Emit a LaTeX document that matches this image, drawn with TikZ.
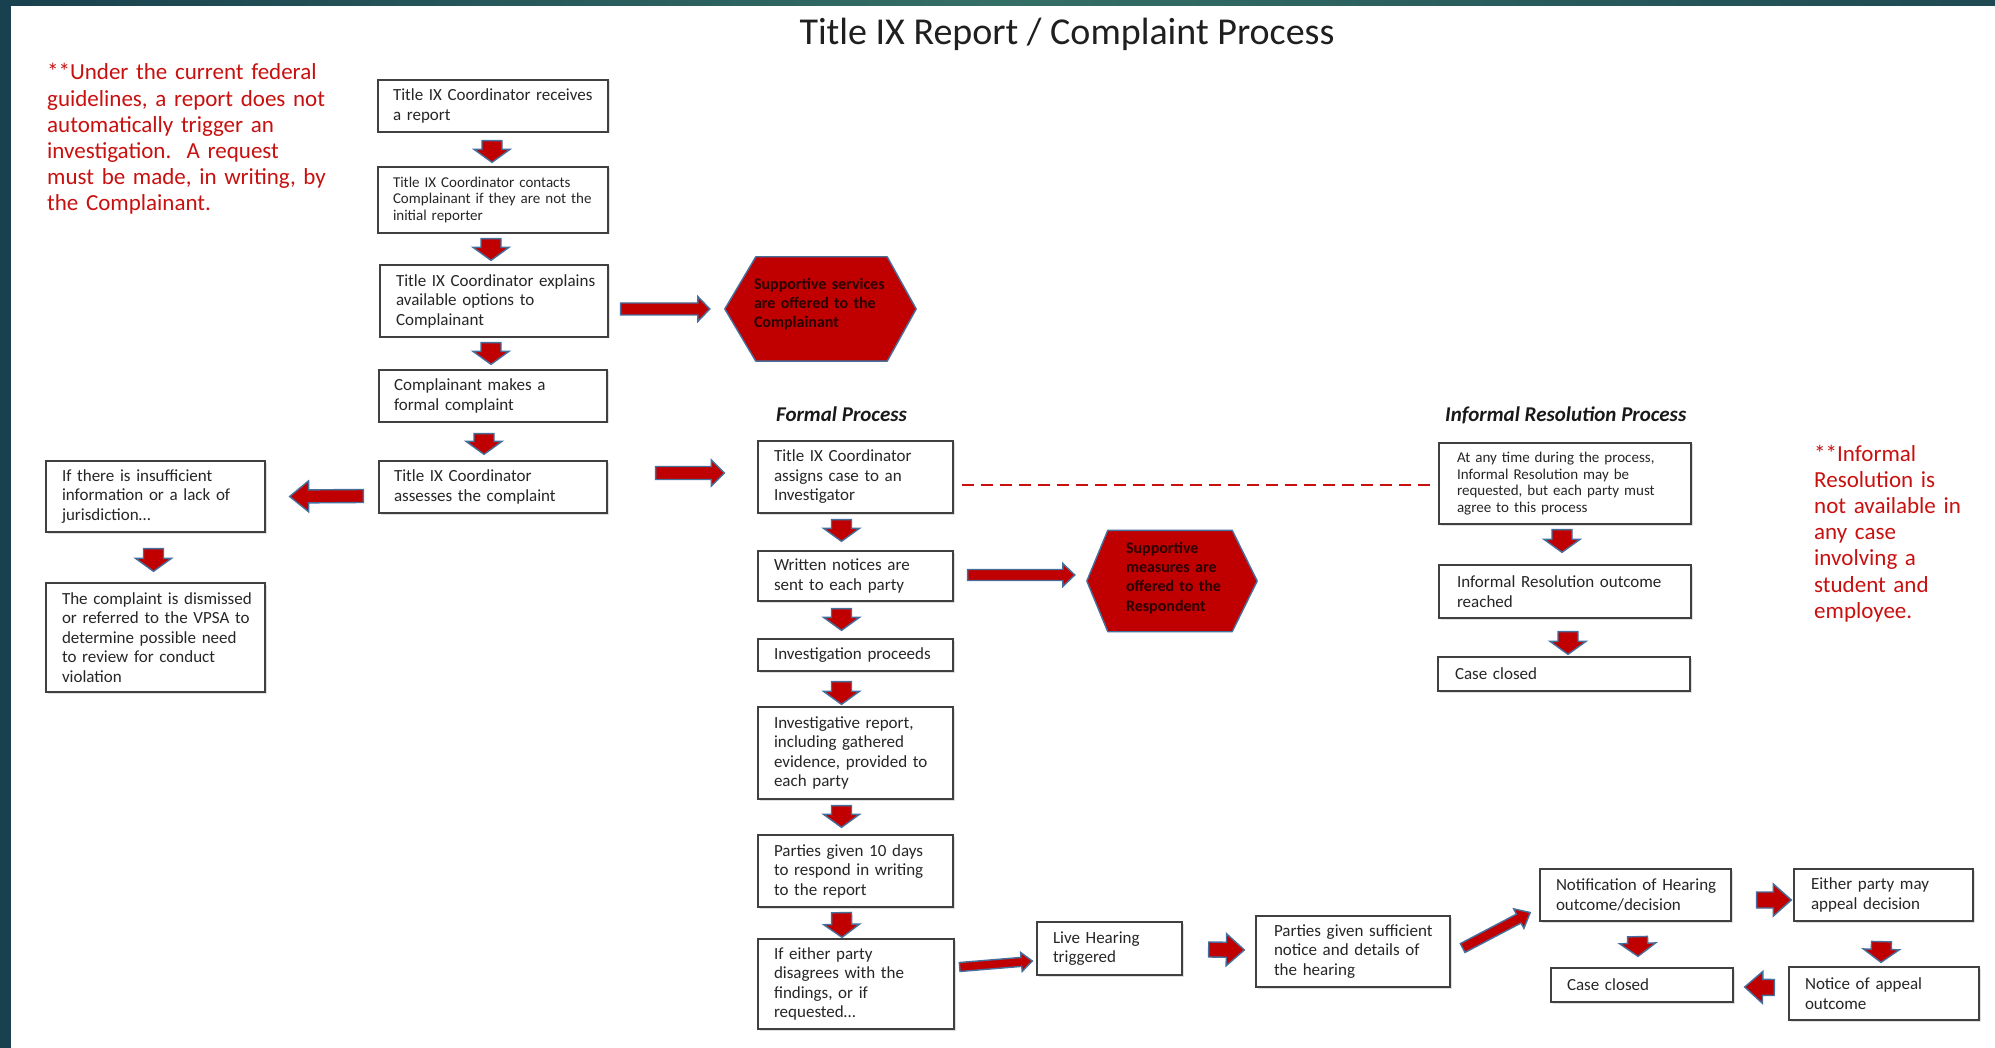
\documentclass[tikz,border=0pt]{standalone}
\usepackage{fontspec}
\setmainfont{Carlito}
\usetikzlibrary{calc,shadows}
\definecolor{dred}{HTML}{C00000}
\definecolor{txtred}{HTML}{C8100F}
\definecolor{aline}{HTML}{45709E}
\definecolor{bgray}{HTML}{404040}
\definecolor{hextext}{HTML}{2A0000}
\definecolor{tealA}{HTML}{19404E}
\definecolor{tealB}{HTML}{346F66}
\newcommand\bxfont{\fontsize{17}{19.5}\selectfont}
\newcommand\smfont{\fontsize{15}{16.5}\selectfont}
\newcommand\hxfont{\fontsize{16}{19.2}\selectfont\bfseries}
\newcommand\notefont{\fontsize{23}{26.2}\selectfont}
\newcommand\hdfont{\fontsize{21}{25}\selectfont\bfseries\itshape}
\newcommand\ttlfont{\fontsize{38}{44}\selectfont}
\pgfdeclarelayer{bg}
\pgfsetlayers{bg,main}
% block arrow: from, to, shaft half width, head half width, head length
\newcommand\barrow[5]{%
  \path let \p1=(#1), \p2=(#2), \n1={atan2(\y2-\y1,\x2-\x1)}, \n2={veclen(\x2-\x1,\y2-\y1)} in
    \pgfextra{\xdef\baA{\n1}\xdef\baL{\n2}\xdef\baX{\x1}\xdef\baY{\y1}};
  \fill[blockarrow, shift={(\baX,\baY)}, rotate=\baA]
    (0,#3) -- ({\baL-#5},#3) -- ({\baL-#5},#4) -- (\baL,0) -- ({\baL-#5},-#4) -- ({\baL-#5},-#3) -- (0,-#3) -- cycle;
}
\begin{document}
\begin{tikzpicture}[x=1pt,y=-1pt,
  pad/.style={execute at begin node={\leftskip=#1pt\relax}},
  box/.style={draw=bgray, line width=1.3pt, fill=white, inner xsep=0pt, inner ysep=0pt,
    align=left, font=\bxfont, text=black!85, pad=15,
    drop shadow={shadow xshift=1.5pt, shadow yshift=-1.5pt, opacity=0.25}},
  wh/.style 2 args={minimum width=#1pt, text width=#1pt, minimum height=#2pt},
  hexnode/.style={inner sep=0pt, align=left, font=\hxfont, text=hextext},
  hexshape/.style={fill=dred, draw=aline, line width=1.4pt, line join=round},
  blockarrow/.style={fill=dred, draw=aline, line width=1.4pt, line join=miter},
  note/.style={inner sep=0pt, align=left, font=\notefont, text=txtred},
  hdr/.style={inner sep=0pt, font=\hdfont, text=black!90},
  dashline/.style={draw=txtred, line width=1.8pt, dash pattern=on 12pt off 7pt}
]
\useasboundingbox (0,0) rectangle (1995,1048);
\begin{pgfonlayer}{bg}
\fill[white] (0,0) rectangle (1995,1048);
\fill[tealA] (0,0) rectangle (11,1048);
\shade[left color=tealA, right color=tealA!80!tealB, middle color=tealB] (0,0) rectangle (1995,6);
\end{pgfonlayer}

% title and notes
\node[anchor=base, font=\ttlfont, text=black!88, inner sep=0pt] (TT) at (1067,45) {Title IX Report / Complaint Process};
\node[note, anchor=base west, text width=300pt] (N1) at (47,80) {**Under the current federal\\guidelines, a report does not\\automatically trigger an\\investigation.\ \ A request\\must be made, in writing, by\\the Complainant.};
\node[note, anchor=base west, text width=175pt] (N2) at (1814,461) {**Informal\\Resolution is\\not available in\\any case\\involving a\\student and\\employee.};
\node[hdr, anchor=base west] (FP) at (776,421) {Formal Process};
\node[hdr, anchor=base west] (IRP) at (1445,421) {Informal Resolution Process};

% intake column
\node[box, wh={230}{52}] (A) at (493,106) {Title IX Coordinator receives\\a report};
\node[box, wh={230}{66}, font=\smfont] (B) at (493,200) {Title IX Coordinator contacts\\Complainant if they are not the\\initial reporter};
\node[box, wh={228}{72}, pad=16] (C) at (494,301) {Title IX Coordinator explains\\available options to\\Complainant};
\node[box, wh={228}{52}] (D) at (493,396) {Complainant makes a\\formal complaint};
\node[box, wh={228}{52}] (E) at (493,487) {Title IX Coordinator\\assesses the complaint};
\node[box, wh={219}{71}, pad=16] (F) at (155.5,496.5) {If there is insufficient\\information or a lack of\\jurisdiction…};
\node[box, wh={219}{109}, pad=16] (G) at (155.5,637.5) {The complaint is dismissed\\or referred to the VPSA to\\determine possible need\\to review for conduct\\violation};

% formal column
\node[box, wh={195}{72}, pad=16] (H) at (855.5,477) {Title IX Coordinator\\assigns case to an\\Investigator};
\node[box, wh={195}{50}, pad=16] (I) at (855.5,576) {Written notices are\\sent to each party};
\node[box, wh={195}{32}, pad=16] (J) at (855.5,655) {Investigation proceeds};
\node[box, wh={195}{92}, pad=16] (K) at (855.5,753) {Investigative report,\\including gathered\\evidence, provided to\\each party};
\node[box, wh={195}{72}, pad=16] (L) at (855.5,871) {Parties given 10 days\\to respond in writing\\to the report};
\node[box, wh={196}{90}, pad=16] (M) at (856,984) {If either party\\disagrees with the\\findings, or if\\requested…};
\node[box, wh={145}{53}, pad=16] (N) at (1109.5,948.5) {Live Hearing\\triggered};
\node[box, wh={194}{71}, pad=18] (O) at (1353,951.5) {Parties given sufficient\\notice and details of\\the hearing};
\node[box, wh={191}{52}, pad=16] (P) at (1635.5,895) {Notification of Hearing\\outcome/decision};
\node[box, wh={179}{52}, pad=17] (Q) at (1883.5,895) {Either party may\\appeal decision};
\node[box, wh={182}{34}, pad=16] (R) at (1642,985) {Case closed};
\node[box, wh={190}{53}, pad=16] (S) at (1884,993.5) {Notice of appeal\\outcome};

% informal column
\node[box, wh={252}{81}, font=\smfont, pad=18] (T) at (1565,483.5) {At any time during the process,\\Informal Resolution may be\\requested, but each party must\\agree to this process};
\node[box, wh={252}{53}, pad=18] (U) at (1565,591.5) {Informal Resolution outcome\\reached};
\node[box, wh={252}{34}, pad=17] (V) at (1564,674) {Case closed};

% hexagons
\node[hexnode, minimum width=191pt, minimum height=104pt, text width=191pt, pad=29] (S1) at (820.5,304) {Supportive services\\are offered to the\\Complainant};
\node[hexnode, minimum width=170pt, minimum height=101pt, text width=170pt, pad=39] (S2) at (1172,578) {Supportive\\measures are\\offered to the\\Respondent};
\begin{pgfonlayer}{bg}
\path[hexshape] ($(S1.west)+(0,5)$) -- ($(S1.north west)+(31,5)$) -- ($(S1.north east)+(-29,5)$) -- ($(S1.east)+(0,5)$) -- ($(S1.south east)+(-29,5)$) -- ($(S1.south west)+(31,5)$) -- cycle;
\path[hexshape] ($(S2.west)+(0,3)$) -- ($(S2.north west)+(21,3)$) -- ($(S2.north east)+(-25,3)$) -- ($(S2.east)+(0,3)$) -- ($(S2.south east)+(-25,3)$) -- ($(S2.south west)+(21,3)$) -- cycle;
\end{pgfonlayer}

% dashed link
\draw[dashline] ($(H.east)+(8,8)$) -- ($(T.west)+(-8,1.5)$);

% down arrows
\barrow{$(A.south)+(-1,8)$}{$(B.north)+(-1,-4)$}{10}{18}{13}
\barrow{$(B.south)+(-2,5)$}{$(C.north)+(-3,-4)$}{10}{18}{13}
\barrow{$(C.south)+(-3,5)$}{$(D.north)+(-2,-5)$}{10}{18}{13}
\barrow{$(D.south)+(-9,11)$}{$(E.north)+(-9,-6)$}{10}{18}{13}
\barrow{$(F.south)+(-2,16)$}{$(G.north)+(-2,-11)$}{10}{18}{13}
\barrow{$(H.south)+(-14,6)$}{$(I.north)+(-14,-9)$}{10}{18}{13}
\barrow{$(I.south)+(-14,7)$}{$(J.north)+(-14,-8)$}{10}{18}{13}
\barrow{$(J.south)+(-14,10)$}{$(K.north)+(-14,-2)$}{10}{18}{13}
\barrow{$(K.south)+(-14,6)$}{$(L.north)+(-14,-7)$}{10}{18}{13}
\barrow{$(L.south)+(-14,5)$}{$(M.north)+(-14,-1)$}{10}{18}{13}
\barrow{$(T.south)+(-3,5)$}{$(U.north)+(-3,-12)$}{10}{18}{13}
\barrow{$(U.south)+(3,13)$}{$(V.north)+(4,-2)$}{10}{18}{13}
\barrow{$(P.south)+(2,15)$}{$(R.north)+(-4,-11)$}{10}{18}{13}
\barrow{$(Q.south)+(-2,20)$}{$(S.north)+(-3,-4)$}{10}{18}{13}

% side arrows
\barrow{$(C.east)+(12,8)$}{$(S1.west)+(-15,5)$}{6}{12.5}{12}
\barrow{$(E.west)+(-15,9)$}{$(F.east)+(24,0)$}{6.5}{15.5}{19}
\barrow{$(E.east)+(48,-14)$}{$(H.west)+(-33,-4)$}{6.5}{13}{13}
\barrow{$(I.east)+(14,-1)$}{$(S2.west)+(-12,-3)$}{5.5}{11.5}{12}
\barrow{$(M.east)+(5,-17)$}{$(N.west)+(-4,12.5)$}{4.5}{9.5}{11}
\barrow{$(N.east)+(26,1)$}{$(O.west)+(-11,-1.5)$}{7.5}{16}{18}
\barrow{$(O.east)+(12,-3.5)$}{$(P.west)+(-9,17.5)$}{5}{11}{13}
\barrow{$(P.east)+(25,5)$}{$(Q.west)+(-2,5)$}{8}{16}{18}
\barrow{$(S.west)+(-14,-6)$}{$(R.east)+(11,2)$}{8}{16}{18}
\end{tikzpicture}
\end{document}
